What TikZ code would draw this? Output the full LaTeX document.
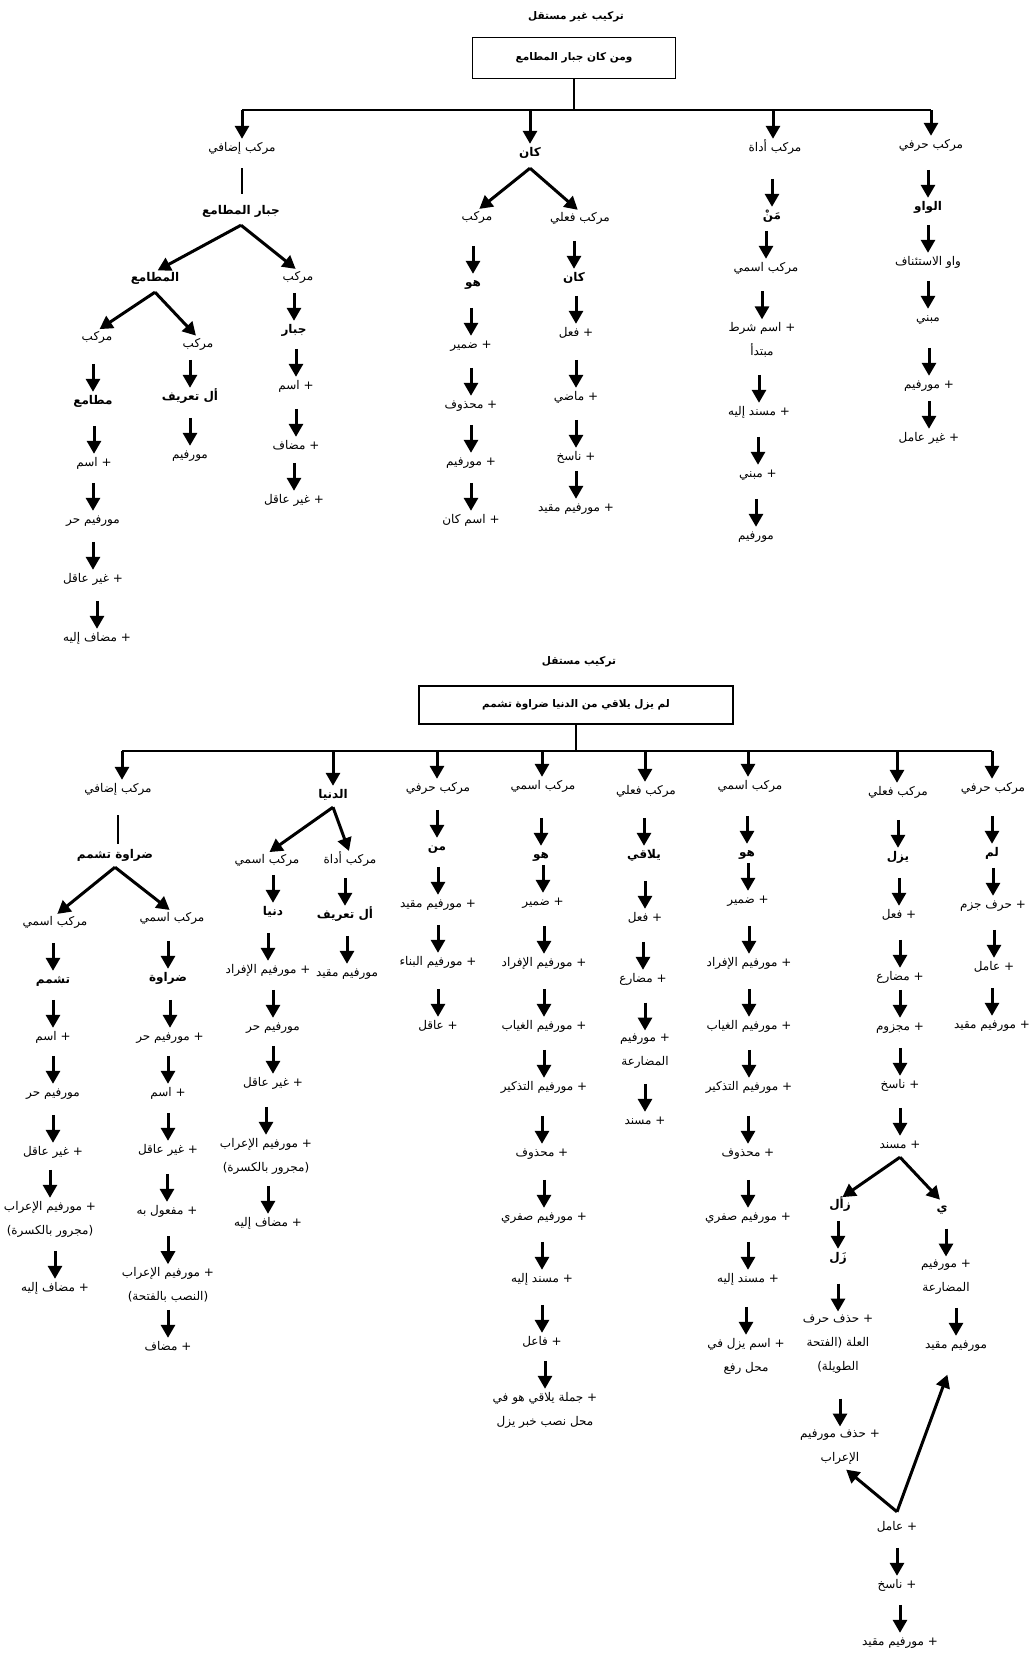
\documentclass[tikz,border=0pt]{standalone}
\usepackage{fontspec}
\usetikzlibrary{arrows.meta,calc}
\newfontfamily\arabicfont[Script=Arabic]{DejaVu Sans}
\TeXXeTstate=1
\newcommand\artx[1]{\beginR#1\endR}
\newcommand\colarrows[1]{\foreach \na/\nb in {#1}{\draw[arw] ($(\nb.north)!31pt!(\na.south -| \nb.north)$) -- (\nb.north);}}
\begin{document}
\begin{tikzpicture}[x=1pt,y=-1pt,
 lab/.style={font={\arabicfont\fontsize{12}{24}\selectfont}, inner sep=0pt, text height=9pt, text depth=3pt},
 blab/.style={lab, font={\arabicfont\bfseries\fontsize{12}{24}\selectfont}},
 mlab/.style={font={\arabicfont\fontsize{12}{24}\selectfont}, inner sep=0pt, align=center},
 ttl/.style={font={\arabicfont\bfseries\fontsize{10.5}{14}\selectfont}, inner sep=0pt},
 tbox/.style={draw, line width=1.4pt, inner sep=0pt, font={\arabicfont\bfseries\fontsize{10.5}{14}\selectfont}},
 arw/.style={line width=3pt, -{Triangle[width=14pt,length=13pt]}, shorten >=3pt},
 darw/.style={arw, shorten <=2pt},
 thinln/.style={line width=1.5pt}]
\fill[white] (0,0) rectangle (1033,1654);
\useasboundingbox (0,0) rectangle (1033,1654);

% ================= TOP =================
\node[ttl] (T1) at (576,17) {\artx{تركيب غير مستقل}};
\node[tbox, minimum width=203pt, minimum height=41pt] (BX1) at (574,58) {\artx{ومن كان جبار المطامع}};
\coordinate (h1) at (574,110);
\coordinate (h1a) at (931,110);
\coordinate (h1b) at (773,110);
\coordinate (h1c) at (530,110);
\coordinate (h1d) at (242,110);
\draw[thinln] (BX1.south) -- (h1);
\draw[thinln] (h1d) -- (h1a);

% branch A
\node[lab] (A) at (931,145) {\artx{مركب حرفي}};
\node[blab] (A1) at (928,207) {\artx{الواو}};
\node[lab] (A2) at (928,262) {\artx{واو الاستئناف}};
\node[lab] (A3) at (928,318) {\artx{مبني}};
\node[lab] (A4) at (929,385) {\artx{+ مورفيم}};
\node[lab] (A5) at (929,438) {\artx{+ غير عامل}};

% branch B
\node[lab] (B) at (775,148) {\artx{مركب أداة}};
\node[blab] (B1) at (772,216) {\artx{مَنْ}};
\node[lab] (B2) at (766,268) {\artx{مركب اسمي}};
\node[mlab] (B3) at (762,340) {\artx{+ اسم شرط}\\\artx{مبتدأ}};
\node[lab] (B4) at (759,412) {\artx{+ مسند إليه}};
\node[lab] (B5) at (758,474) {\artx{+ مبني}};
\node[lab] (B6) at (756,536) {\artx{مورفيم}};

% branch C
\node[blab] (C) at (530,153) {\artx{كان}};
\node[lab] (CL) at (477,217) {\artx{مركب}};
\node[blab] (CL1) at (473,283) {\artx{هو}};
\node[lab] (CL2) at (471,345) {\artx{+ ضمير}};
\node[lab] (CL3) at (471,405) {\artx{+ محذوف}};
\node[lab] (CL4) at (471,462) {\artx{+ مورفيم}};
\node[lab] (CL5) at (471,520) {\artx{+ اسم كان}};
\node[lab] (CR) at (580,218) {\artx{مركب فعلي}};
\node[blab] (CR1) at (574,278) {\artx{كان}};
\node[lab] (CR2) at (576,333) {\artx{+ فعل}};
\node[lab] (CR3) at (576,397) {\artx{+ ماضي}};
\node[lab] (CR4) at (576,457) {\artx{+ ناسخ}};
\node[lab] (CR5) at (576,508) {\artx{+ مورفيم مقيد}};

% branch D
\node[lab] (D) at (242,148) {\artx{مركب إضافي}};
\node[blab] (D1) at (241,211) {\artx{جبار المطامع}};
\node[lab] (DR) at (298,277) {\artx{مركب}};
\node[blab] (DR1) at (294,330) {\artx{جبار}};
\node[lab] (DR2) at (296,386) {\artx{+ اسم}};
\node[lab] (DR3) at (296,446) {\artx{+ مضاف}};
\node[lab] (DR4) at (294,500) {\artx{+ غير عاقل}};
\node[blab] (D2) at (155,278) {\artx{المطامع}};
\node[lab] (DM) at (198,344) {\artx{مركب}};
\node[blab] (DM1) at (190,397) {\artx{أل تعريف}};
\node[lab] (DM2) at (190,455) {\artx{مورفيم}};
\node[lab] (DL) at (97,337) {\artx{مركب}};
\node[blab] (DL1) at (93,401) {\artx{مطامع}};
\node[lab] (DL2) at (94,463) {\artx{+ اسم}};
\node[lab] (DL3) at (93,520) {\artx{مورفيم حر}};
\node[lab] (DL4) at (93,579) {\artx{+ غير عاقل}};
\node[lab] (DL5) at (97,638) {\artx{+ مضاف إليه}};

\coordinate (Cv) at ([yshift=-9pt]C.south);
\coordinate (D1v) at ([yshift=-8pt]D1.south);
\coordinate (D2v) at ([yshift=-8pt]D2.south);
\draw[arw] (h1a) -- (h1a |- A.north);
\draw[arw] (h1b) -- (h1b |- B.north);
\draw[arw] (h1c) -- (h1c |- C.north);
\draw[arw] (h1d) -- (h1d |- D.north);
\draw[thinln, shorten <=14pt, shorten >=11pt] (D.south) -- (D.south |- D1.north);
\draw[darw, shorten <=0pt] (Cv) -- (CL.north);
\draw[darw, shorten <=0pt] (Cv) -- (CR.north);
\draw[darw, shorten <=0pt] (D1v) -- (D2.north);
\draw[darw, shorten <=0pt] (D1v) -- (DR.north);
\draw[darw, shorten <=0pt] (D2v) -- (DL.north);
\draw[darw, shorten <=0pt] (D2v) -- (DM.north);
\colarrows{A/A1,A1/A2,A2/A3,A3/A4,A4/A5}
\colarrows{B/B1,B1/B2,B2/B3,B3/B4,B4/B5,B5/B6}
\colarrows{CL/CL1,CL1/CL2,CL2/CL3,CL3/CL4,CL4/CL5}
\colarrows{CR/CR1,CR1/CR2,CR2/CR3,CR3/CR4,CR4/CR5}
\colarrows{DR/DR1,DR1/DR2,DR2/DR3,DR3/DR4}
\colarrows{DM/DM1,DM1/DM2}
\colarrows{DL/DL1,DL1/DL2,DL2/DL3,DL3/DL4,DL4/DL5}

% ================= BOTTOM =================
\node[ttl] (T2) at (579,662) {\artx{تركيب مستقل}};
\node[tbox, minimum width=314pt, minimum height=38pt] (BX2) at (576,705) {\artx{لم يزل يلاقي من الدنيا ضراوة تشمم}};
\coordinate (h2) at (576,751);
\coordinate (h2h) at (992,751);
\coordinate (h2y) at (897,751);
\coordinate (h2i) at (748,751);
\coordinate (h2j) at (645,751);
\coordinate (h2k) at (542,751);
\coordinate (h2l) at (437,751);
\coordinate (h2m) at (333,751);
\coordinate (h2n) at (122,751);
\draw[thinln] (BX2.south) -- (h2);
\draw[thinln] (h2n) -- (h2h);

% column H
\node[lab] (H) at (993,788) {\artx{مركب حرفي}};
\node[blab] (H1) at (992,853) {\artx{لم}};
\node[lab] (H2) at (993,905) {\artx{+ حرف جزم}};
\node[lab] (H3) at (994,967) {\artx{+ عامل}};
\node[lab] (H4) at (992,1025) {\artx{+ مورفيم مقيد}};

% column Y
\node[lab] (Y) at (898,792) {\artx{مركب فعلي}};
\node[blab] (Y1) at (898,857) {\artx{يزل}};
\node[lab] (Y2) at (899,915) {\artx{+ فعل}};
\node[lab] (Y3) at (900,977) {\artx{+ مضارع}};
\node[lab] (Y4) at (900,1027) {\artx{+ مجزوم}};
\node[lab] (Y5) at (900,1085) {\artx{+ ناسخ}};
\node[lab] (Y6) at (900,1145) {\artx{+ مسند}};
\node[blab] (YL) at (840,1205) {\artx{زأل}};
\node[blab] (YL1) at (838,1258) {\artx{زَل}};
\node[mlab] (YL2) at (838,1344) {\artx{+ حذف حرف}\\\artx{العلة (الفتحة}\\\artx{الطويلة)}};
\node[mlab] (YL3) at (840,1447) {\artx{+ حذف مورفيم}\\\artx{الإعراب}};
\node[blab] (YR) at (942,1208) {\artx{ي}};
\node[mlab] (YR1) at (946,1277) {\artx{+ مورفيم}\\\artx{المضارعة}};
\node[lab] (YR2) at (956,1345) {\artx{مورفيم مقيد}};
\node[lab] (YB) at (897,1527) {\artx{+ عامل}};
\node[lab] (YB1) at (897,1585) {\artx{+ ناسخ}};
\node[lab] (YB2) at (900,1642) {\artx{+ مورفيم مقيد}};
\coordinate (YBv) at ([yshift=9pt]YB.north);

% column I
\node[lab] (I) at (750,786) {\artx{مركب اسمي}};
\node[blab] (I1) at (747,853) {\artx{هو}};
\node[lab] (I2) at (748,900) {\artx{+ ضمير}};
\node[lab] (I3) at (749,963) {\artx{+ مورفيم الإفراد}};
\node[lab] (I4) at (749,1026) {\artx{+ مورفيم الغياب}};
\node[lab] (I5) at (749,1087) {\artx{+ مورفيم التذكير}};
\node[lab] (I6) at (748,1153) {\artx{+ محذوف}};
\node[lab] (I7) at (748,1217) {\artx{+ مورفيم صفري}};
\node[lab] (I8) at (748,1279) {\artx{+ مسند إليه}};
\node[mlab] (I9) at (746,1356) {\artx{+ اسم يزل في}\\\artx{محل رفع}};

% column J
\node[lab] (J) at (646,791) {\artx{مركب فعلي}};
\node[blab] (J1) at (644,855) {\artx{يلاقي}};
\node[lab] (J2) at (645,918) {\artx{+ فعل}};
\node[lab] (J3) at (643,979) {\artx{+ مضارع}};
\node[mlab] (J4) at (645,1051) {\artx{+ مورفيم}\\\artx{المضارعة}};
\node[lab] (J5) at (645,1121) {\artx{+ مسند}};

% column K
\node[lab] (K) at (543,786) {\artx{مركب اسمي}};
\node[blab] (K1) at (541,855) {\artx{هو}};
\node[lab] (K2) at (543,902) {\artx{+ ضمير}};
\node[lab] (K3) at (544,963) {\artx{+ مورفيم الإفراد}};
\node[lab] (K4) at (544,1026) {\artx{+ مورفيم الغياب}};
\node[lab] (K5) at (544,1087) {\artx{+ مورفيم التذكير}};
\node[lab] (K6) at (542,1153) {\artx{+ محذوف}};
\node[lab] (K7) at (544,1217) {\artx{+ مورفيم صفري}};
\node[lab] (K8) at (542,1279) {\artx{+ مسند إليه}};
\node[lab] (K9) at (542,1342) {\artx{+ فاعل}};
\node[mlab] (K10) at (545,1410) {\artx{+ جملة يلاقي هو في}\\\artx{محل نصب خبر يزل}};

% column L
\node[lab] (L) at (438,788) {\artx{مركب حرفي}};
\node[blab] (L1) at (437,847) {\artx{من}};
\node[lab] (L2) at (438,904) {\artx{+ مورفيم مقيد}};
\node[lab] (L3) at (438,962) {\artx{+ مورفيم البناء}};
\node[lab] (L4) at (438,1026) {\artx{+ عاقل}};

% column M
\node[blab] (M) at (333,795) {\artx{الدنيا}};
\node[lab] (ML) at (267,860) {\artx{مركب اسمي}};
\node[lab] (MR) at (350,860) {\artx{مركب أداة}};
\node[blab] (ML1) at (273,912) {\artx{دنيا}};
\node[lab] (ML2) at (268,970) {\artx{+ مورفيم الإفراد}};
\node[lab] (ML3) at (273,1027) {\artx{مورفيم حر}};
\node[lab] (ML4) at (273,1083) {\artx{+ غير عاقل}};
\node[mlab] (ML5) at (266,1156) {\artx{+ مورفيم الإعراب}\\\artx{(مجرور بالكسرة)}};
\node[lab] (ML6) at (268,1223) {\artx{+ مضاف إليه}};
\node[blab] (MR1) at (345,915) {\artx{أل تعريف}};
\node[lab] (MR2) at (347,973) {\artx{مورفيم مقيد}};

% column N
\node[lab] (N) at (118,789) {\artx{مركب إضافي}};
\node[blab] (N1) at (115,855) {\artx{ضراوة تشمم}};
\node[lab] (NL) at (55,922) {\artx{مركب اسمي}};
\node[blab] (NL1) at (53,980) {\artx{تشمم}};
\node[lab] (NL2) at (53,1037) {\artx{+ اسم}};
\node[lab] (NL3) at (53,1093) {\artx{مورفيم حر}};
\node[lab] (NL4) at (53,1152) {\artx{+ غير عاقل}};
\node[mlab] (NL5) at (50,1219) {\artx{+ مورفيم الإعراب}\\\artx{(مجرور بالكسرة)}};
\node[lab] (NL6) at (55,1288) {\artx{+ مضاف إليه}};
\node[lab] (NR) at (172,918) {\artx{مركب اسمي}};
\node[blab] (NR1) at (168,978) {\artx{ضراوة}};
\node[lab] (NR2) at (170,1037) {\artx{+ مورفيم حر}};
\node[lab] (NR3) at (168,1093) {\artx{+ اسم}};
\node[lab] (NR4) at (168,1150) {\artx{+ غير عاقل}};
\node[lab] (NR5) at (167,1211) {\artx{+ مفعول به}};
\node[mlab] (NR6) at (168,1285) {\artx{+ مورفيم الإعراب}\\\artx{(النصب بالفتحة)}};
\node[lab] (NR7) at (168,1347) {\artx{+ مضاف}};

% connectors bottom
\coordinate (N1v) at ([yshift=-6pt]N1.south);
\coordinate (Mv) at ([yshift=-6pt]M.south);
\coordinate (Y6v) at ([yshift=-6pt]Y6.south);
\draw[arw] (h2h) -- (h2h |- H.north);
\draw[arw] (h2y) -- (h2y |- Y.north);
\draw[arw] (h2i) -- (h2i |- I.north);
\draw[arw] (h2j) -- (h2j |- J.north);
\draw[arw] (h2k) -- (h2k |- K.north);
\draw[arw] (h2l) -- (h2l |- L.north);
\draw[arw] (h2m) -- (h2m |- M.north);
\draw[arw] (h2n) -- (h2n |- N.north);
\draw[thinln, shorten <=20pt, shorten >=5pt] (N.south) -- (N.south |- N1.north);
\draw[darw, shorten <=0pt] (N1v) -- (NL.north);
\draw[darw, shorten <=0pt] (N1v) -- (NR.north);
\draw[darw, shorten <=0pt] (Mv) -- (ML.north);
\draw[darw, shorten <=0pt] (Mv) -- (MR.north);
\draw[darw, shorten <=0pt] (Y6v) -- (YL.north);
\draw[darw, shorten <=0pt] (Y6v) -- (YR.north);
\draw[darw, shorten <=0pt, shorten >=25pt] (YBv) -- (YR2.south);
\draw[darw, shorten <=0pt, shorten >=8pt] (YBv) -- (YL3.south);
\colarrows{H/H1,H1/H2,H2/H3,H3/H4}
\colarrows{Y/Y1,Y1/Y2,Y2/Y3,Y3/Y4,Y4/Y5,Y5/Y6}
\colarrows{YL/YL1,YL1/YL2,YL2/YL3}
\colarrows{YR/YR1,YR1/YR2}
\colarrows{YB/YB1,YB1/YB2}
\colarrows{I/I1,I1/I2,I2/I3,I3/I4,I4/I5,I5/I6,I6/I7,I7/I8,I8/I9}
\colarrows{J/J1,J1/J2,J2/J3,J3/J4,J4/J5}
\colarrows{K/K1,K1/K2,K2/K3,K3/K4,K4/K5,K5/K6,K6/K7,K7/K8,K8/K9,K9/K10}
\colarrows{L/L1,L1/L2,L2/L3,L3/L4}
\colarrows{ML/ML1,ML1/ML2,ML2/ML3,ML3/ML4,ML4/ML5,ML5/ML6}
\colarrows{MR/MR1,MR1/MR2}
\colarrows{NL/NL1,NL1/NL2,NL2/NL3,NL3/NL4,NL4/NL5,NL5/NL6}
\colarrows{NR/NR1,NR1/NR2,NR2/NR3,NR3/NR4,NR4/NR5,NR5/NR6,NR6/NR7}
\end{tikzpicture}
\end{document}
